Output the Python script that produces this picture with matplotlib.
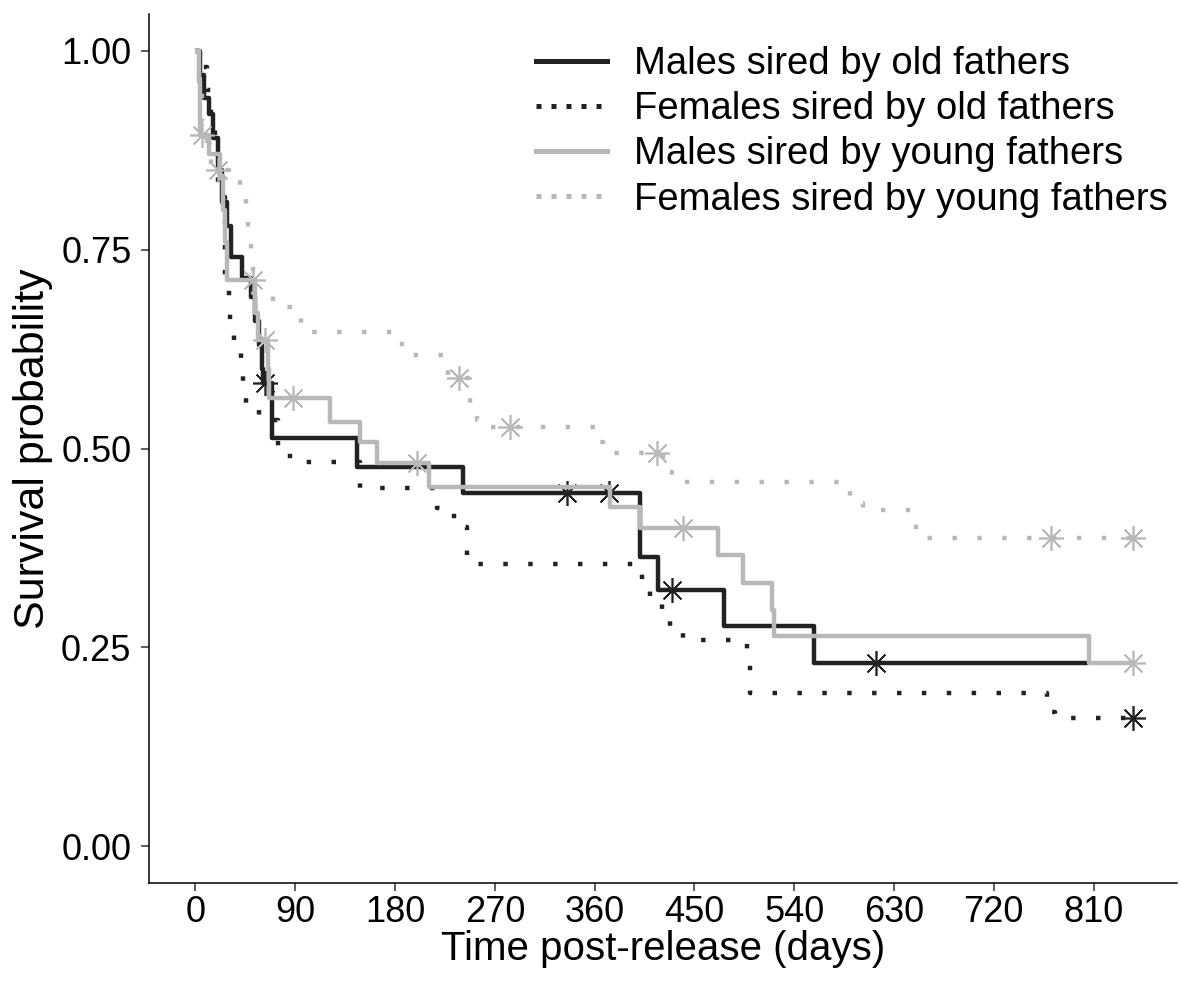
import matplotlib
matplotlib.use('Agg')
import numpy as np
import matplotlib.pyplot as plt
from matplotlib.lines import Line2D

plt.rcParams['font.family'] = ['Liberation Sans', 'DejaVu Sans']

# ---- data ----
labels = ["Males sired by old fathers", "Females sired by old fathers",
          "Males sired by young fathers", "Females sired by young fathers"]

mo_time = [0, 4, 8, 12, 16, 20, 24, 28, 32, 42, 50, 54, 57, 60, 61, 69, 146, 241, 401, 417, 477, 558, 805]
mo_surv = [1.0, 0.97, 0.94, 0.92, 0.89, 0.85, 0.81, 0.78, 0.741, 0.714, 0.69, 0.66, 0.63, 0.60, 0.582,
           0.513, 0.477, 0.444, 0.364, 0.322, 0.277, 0.231, 0.231]
mo_cens = [63, 335, 373, 430, 614]

fo_time = [0, 6, 10, 14, 18, 20, 27, 30, 31, 35, 41, 43, 46, 57, 74, 85, 148, 218, 233, 245, 403, 410,
           421, 428, 440, 497, 500, 768, 775, 846]
fo_surv = [1.0, 0.98, 0.95, 0.91, 0.87, 0.816, 0.706, 0.678, 0.647, 0.624, 0.601, 0.574, 0.548, 0.536,
           0.498, 0.483, 0.450, 0.425, 0.401, 0.355, 0.325, 0.307, 0.289, 0.268, 0.259, 0.24, 0.1925,
           0.169, 0.161, 0.161]
fo_cens = [846]

my_time = [0, 3, 4, 12, 22, 25, 27, 28, 54, 56, 65, 66, 121, 148, 164, 211, 374, 401, 471, 494, 520,
           522, 806, 846]
my_surv = [1.0, 0.96, 0.894, 0.87, 0.84, 0.80, 0.76, 0.712, 0.67, 0.636, 0.60, 0.563, 0.533, 0.508,
           0.482, 0.452, 0.426, 0.400, 0.366, 0.331, 0.297, 0.264, 0.231, 0.231]
my_cens = [6, 52, 63, 88, 200, 440, 846]

fy_time = [0, 3, 6, 10, 14, 30, 40, 46, 47, 50, 52, 70, 95, 186, 228, 248, 254, 260, 360, 368, 422,
           430, 590, 602, 650, 660, 846]
fy_surv = [1.0, 0.95, 0.91, 0.875, 0.85, 0.842, 0.821, 0.79, 0.76, 0.735, 0.696, 0.678, 0.647, 0.618,
           0.589, 0.557, 0.536, 0.527, 0.508, 0.494, 0.470, 0.458, 0.431, 0.4226, 0.395, 0.3875, 0.3875]
fy_cens = [20, 238, 284, 416, 772, 846]

x_ticks = [0, 90, 180, 270, 360, 450, 540, 630, 720, 810]
y_ticks = [0.00, 0.25, 0.50, 0.75, 1.00]

# ---- styles ----
BLACK = '#222222'
GREY = '#b8b8b8'
series = [
    (mo_time, mo_surv, mo_cens, BLACK, '-'),
    (fo_time, fo_surv, fo_cens, BLACK, (0, (1, 4.6))),
    (my_time, my_surv, my_cens, GREY, '-'),
    (fy_time, fy_surv, fy_cens, GREY, (0, (1, 4.6))),
]

fig = plt.figure(figsize=(11.81, 9.88), dpi=100)
ax = fig.add_axes([0.126, 0.1063, 0.871, 0.8795])

LW = 3.2
for t, s, c, col, ls in series:
    ax.step(t, s, where='post', color=col, lw=LW, linestyle=ls, solid_capstyle='butt',
            dash_capstyle='butt')
    t_arr = np.array(t)
    s_arr = np.array(s)
    idx = np.searchsorted(t_arr, np.array(c), side='right') - 1
    ax.plot(c, s_arr[idx], linestyle='none', marker=(8, 2, 0), markersize=18,
            markeredgewidth=1.2, color=col)

ax.set_xlim(-42.1, 885.7)
ax.set_ylim(-0.046, 1.046)
ax.set_xticks(x_ticks)
ax.set_xticklabels([str(v) for v in x_ticks])
ax.set_yticks(y_ticks)
ax.set_yticklabels([f"{v:.2f}" for v in y_ticks])

for side in ['top', 'right']:
    ax.spines[side].set_visible(False)
for side in ['left', 'bottom']:
    ax.spines[side].set_linewidth(1.1)
    ax.spines[side].set_color('black')
ax.tick_params(axis='both', length=5.5, width=1.1, color='#333333', labelsize=26,
               labelcolor='black')
ax.tick_params(axis='y', pad=7)
ax.tick_params(axis='x', pad=3)

ax.set_xlabel('Time post-release (days)', fontsize=29, labelpad=0)
ax.set_ylabel('Survival probability', fontsize=31, labelpad=6)

handles = [
    Line2D([], [], color=BLACK, lw=3.6, linestyle='-'),
    Line2D([], [], color=BLACK, lw=3.6, linestyle=(0, (1, 2))),
    Line2D([], [], color=GREY, lw=3.6, linestyle='-'),
    Line2D([], [], color=GREY, lw=3.6, linestyle=(0, (1, 2))),
]
leg = ax.legend(handles, labels, loc='upper right', bbox_to_anchor=(1.009, 0.985), frameon=False,
                fontsize=27.5, handlelength=1.85, handletextpad=0.7, labelspacing=0.24,
                borderaxespad=0.1)

fig.savefig('out.png', dpi=100)
